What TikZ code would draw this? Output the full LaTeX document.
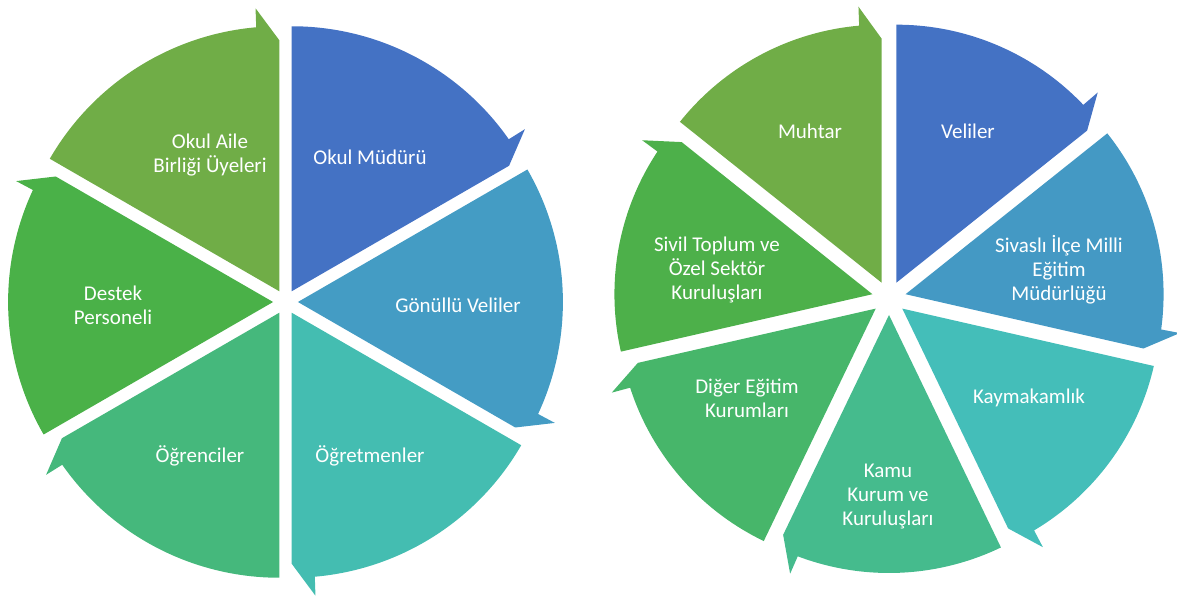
\documentclass[tikz,border=0pt]{standalone}
\usepackage{fontspec}
\setmainfont{Carlito}

\definecolor{segA}{HTML}{4472C4}
\definecolor{segB}{HTML}{449CC4}
\definecolor{segC}{HTML}{44BDB1}
\definecolor{segD}{HTML}{45B87C}
\definecolor{segE}{HTML}{4AB148}
\definecolor{segF}{HTML}{70AD47}
\definecolor{segRB}{HTML}{4499C4}
\definecolor{segRC}{HTML}{44BEB9}
\definecolor{segRD}{HTML}{45BB8D}
\definecolor{segRE}{HTML}{47B66A}
\definecolor{segRF}{HTML}{4DB04A}

% #1 centre, #2 start angle, #3 end angle, #4 colour, #5 radius, #6 offset
\newcommand{\cyclepart}[6]{%
\fill[#4, shift={(#1)}, shift={({(#2+#3)/2}:#6)}]
  (0,0) -- (#2:#5) arc [radius=#5, start angle=#2, end angle={#3+5}]
  -- ({#3+4.8}:{#5+19}) -- (#3:{#5-14}) -- cycle;}

\tikzset{lbl/.style={text=white, align=center, font=\fontsize{21}{24}\selectfont}}

\begin{document}
\begin{tikzpicture}[x=1pt,y=1pt]
\useasboundingbox (0,0) rectangle (1177,597);

\coordinate (L) at (285.5,295);
\coordinate (R) at (889,299);

% left cycle
\cyclepart{L}{90}{30}{segA}{265}{12.4}
\cyclepart{L}{30}{-30}{segB}{265}{12.4}
\cyclepart{L}{-30}{-90}{segC}{265}{12.4}
\cyclepart{L}{-90}{-150}{segD}{265}{12.4}
\cyclepart{L}{-150}{-210}{segE}{265}{12.4}
\cyclepart{L}{-210}{-270}{segF}{265}{12.4}

\node[lbl] (mudur) at (370,440) {Okul Müdürü};
\node[lbl] (gonullu) at (458,292) {Gönüllü Veliler};
\node[lbl] (ogretmen) at (370,141) {Öğretmenler};
\node[lbl] (ogrenci) at (200,141) {Öğrenciler};
\node[lbl] (destek) at (113,292) {Destek\\Personeli};
\node[lbl] (aile) at (210,442) {Okul Aile\\Birliği Üyeleri};

% right cycle
\cyclepart{R}{90}{38.571}{segA}{258}{17}
\cyclepart{R}{38.571}{-12.857}{segRB}{258}{17}
\cyclepart{R}{-12.857}{-64.286}{segRC}{258}{17}
\cyclepart{R}{-64.286}{-115.714}{segRD}{258}{17}
\cyclepart{R}{-115.714}{-167.143}{segRE}{258}{17}
\cyclepart{R}{-167.143}{-218.571}{segRF}{258}{17}
\cyclepart{R}{-218.571}{-270}{segF}{258}{17}

\node[lbl] (veli) at (968,466) {Veliler};
\node[lbl] (meb) at (1059,327) {Sivaslı İlçe Milli\\Eğitim\\Müdürlüğü};
\node[lbl] (kaymakam) at (1029,199) {Kaymakamlık};
\node[lbl] (kamu) at (888,100) {Kamu\\Kurum ve\\Kuruluşları};
\node[lbl] (diger) at (747,199) {Diğer Eğitim\\Kurumları};
\node[lbl] (sivil) at (717,327) {Sivil Toplum ve\\Özel Sektör\\Kuruluşları};
\node[lbl] (muhtar) at (810,466) {Muhtar};

\end{tikzpicture}
\end{document}
